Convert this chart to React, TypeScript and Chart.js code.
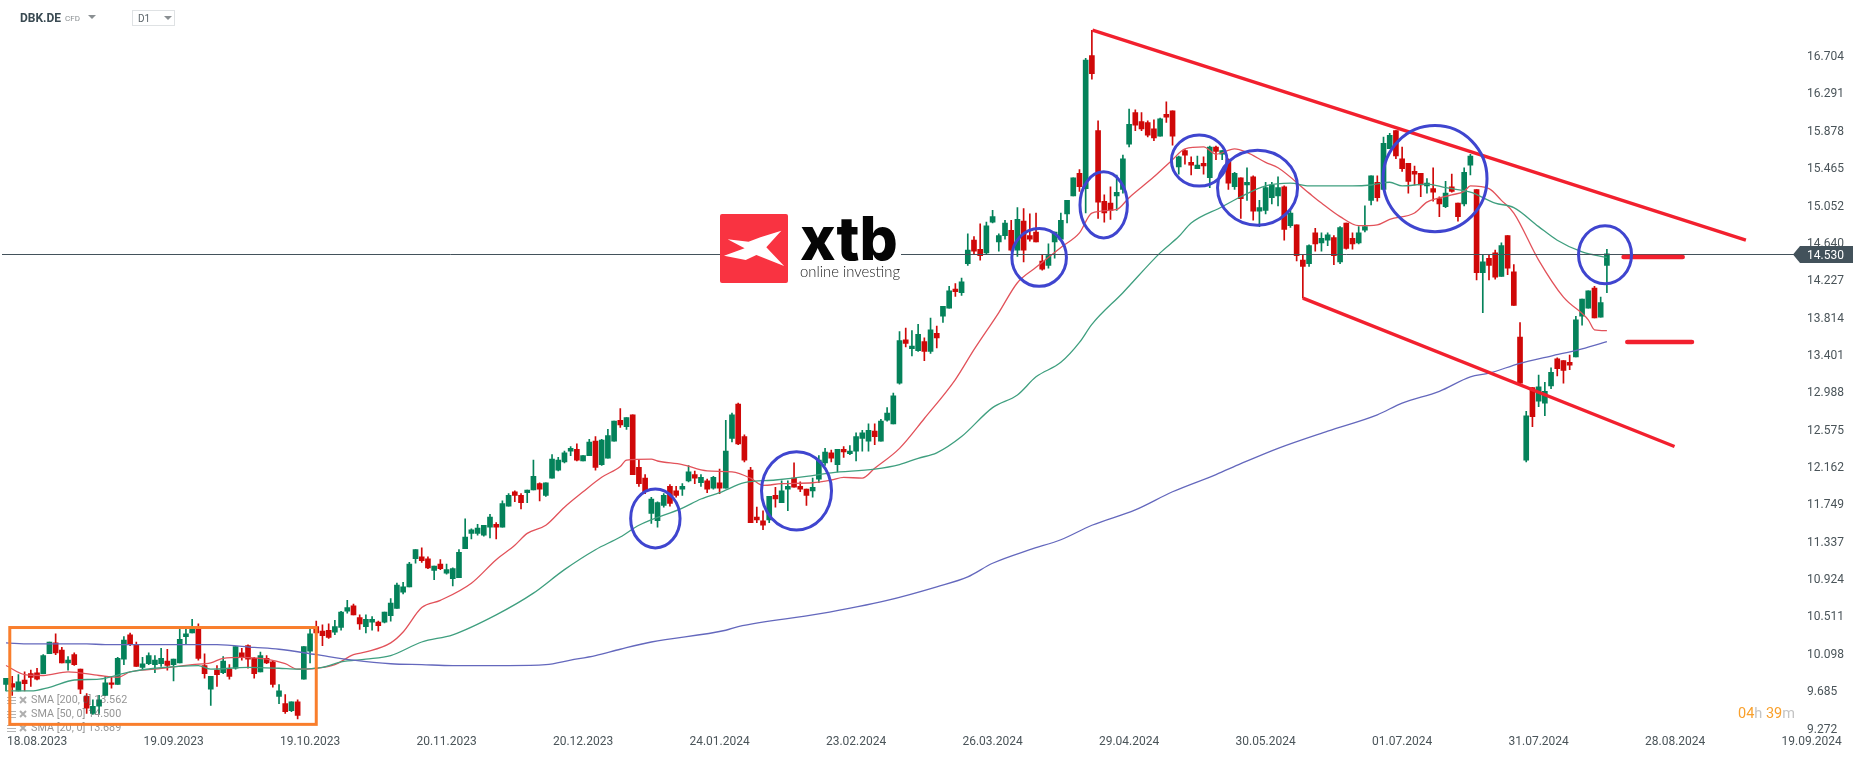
import { useEffect, useRef } from "react"
import { Chart, registerables } from "chart.js"

Chart.register(...registerables)

// daily candles
const opens = [
  9.77,9.78,9.70,9.82,9.89,9.90,9.89,10.11,10.23,10.15,
  10.01,10.10,9.94,9.64,9.45,9.53,9.65,9.79,9.77,10.05,
  10.32,10.21,9.96,10.00,9.99,10.00,10.03,9.99,10.01,10.30,
  10.34,10.39,9.98,9.72,9.93,9.90,9.94,9.95,10.12,10.20,
  10.06,9.91,10.06,10.02,9.64,9.56,9.48,9.58,9.83,10.14,
  10.41,10.36,10.37,10.35,10.40,10.58,10.64,10.51,10.41,10.46,
  10.46,10.46,10.53,10.61,10.79,10.85,11.16,11.18,11.16,11.03,
  11.10,11.00,10.94,10.95,11.27,11.44,11.44,11.42,11.51,11.54,
  11.51,11.74,11.90,11.86,11.89,11.92,11.99,11.86,12.05,12.14,
  12.23,12.35,12.37,12.24,12.30,12.46,12.20,12.27,12.46,12.69,
  12.62,12.75,12.17,12.05,11.66,11.58,11.75,11.96,11.91,11.93,
  12.02,12.09,12.00,12.02,11.94,12.00,11.94,12.49,12.87,12.51,
  12.14,11.62,11.58,11.59,11.86,11.78,11.93,12.05,11.96,11.93,
  11.91,12.04,12.22,12.33,12.20,12.37,12.32,12.35,12.49,12.46,
  12.57,12.46,12.69,12.65,13.10,13.58,13.48,13.46,13.56,13.45,
  13.65,13.84,13.93,14.14,14.10,14.42,14.68,14.58,14.54,14.88,
  14.66,14.73,14.79,14.57,14.89,14.73,14.77,14.45,14.40,14.66,
  14.69,14.97,15.17,15.42,15.25,16.72,15.89,15.11,15.09,15.17,
  15.24,15.74,16.09,15.99,15.98,15.91,15.83,16.07,16.11,15.49,
  15.67,15.54,15.47,15.53,15.37,15.71,15.63,15.57,15.27,15.37,
  15.29,15.38,15.00,15.01,15.15,15.17,15.27,14.84,14.85,14.46,
  14.42,14.76,14.65,14.68,14.71,14.44,14.87,14.70,14.65,14.79,
  15.12,15.32,15.24,15.69,15.89,15.58,15.53,15.44,15.42,15.28,
  15.25,15.14,15.05,15.27,15.09,15.08,15.51,15.24,14.32,14.48,
  14.54,14.28,14.73,14.33,13.61,12.25,13.05,12.90,12.88,13.07,
  13.37,13.35,13.33,13.39,13.84,13.93,14.15,13.83,14.40,
]
const highs = [
  9.84,9.86,9.88,9.91,9.93,9.95,10.10,10.24,10.33,10.18,
  10.08,10.12,9.94,9.67,9.60,9.65,9.86,9.86,10.07,10.30,
  10.34,10.24,10.07,10.12,10.09,10.17,10.16,10.05,10.39,10.39,
  10.49,10.44,10.11,9.86,9.98,10.08,9.99,10.19,10.17,10.21,
  10.07,10.13,10.09,10.03,9.77,9.66,9.58,9.60,10.19,10.38,
  10.47,10.43,10.44,10.48,10.58,10.70,10.66,10.54,10.54,10.52,
  10.47,10.57,10.72,10.89,10.90,11.12,11.26,11.28,11.18,11.08,
  11.15,11.10,11.06,11.26,11.60,11.49,11.54,11.53,11.65,11.56,
  11.80,11.88,11.91,11.88,11.92,12.25,12.00,12.00,12.31,12.28,
  12.35,12.40,12.43,12.30,12.48,12.51,12.48,12.59,12.68,12.82,
  12.72,12.75,12.25,12.09,11.84,11.79,11.88,11.98,11.96,11.99,
  12.19,12.13,12.09,12.04,12.07,12.15,12.69,12.77,12.88,12.53,
  12.17,11.73,11.69,11.85,11.95,12.02,12.02,12.22,12.01,11.93,
  12.05,12.30,12.38,12.36,12.37,12.40,12.41,12.55,12.58,12.65,
  12.65,12.70,12.83,12.99,13.67,13.71,13.68,13.75,13.60,13.82,
  13.73,13.95,14.17,14.20,14.26,14.75,14.72,14.86,14.88,15.01,
  14.75,14.90,14.90,15.04,15.03,14.97,14.98,14.52,14.64,14.77,
  14.98,15.12,15.37,15.46,16.69,17.00,16.00,15.18,15.27,15.40,
  15.62,16.13,16.12,16.09,16.00,16.01,16.03,16.21,16.11,15.61,
  15.68,15.60,15.61,15.60,15.72,15.72,15.67,15.58,15.43,15.37,
  15.48,15.39,15.12,15.32,15.32,15.38,15.28,15.01,14.85,14.52,
  14.63,14.81,14.76,14.76,14.73,14.83,14.87,14.76,14.83,15.06,
  15.39,15.39,15.82,15.86,15.89,15.71,15.53,15.50,15.42,15.36,
  15.48,15.16,15.33,15.41,15.09,15.48,15.63,15.24,14.52,14.52,
  14.57,14.65,14.73,14.41,13.77,12.79,13.05,13.19,13.11,13.27,
  13.38,13.35,13.41,13.84,14.03,14.12,14.17,14.05,14.58,
]
const lows = [
  9.70,9.65,9.70,9.70,9.75,9.82,9.89,10.11,10.10,10.01,
  9.93,9.98,9.67,9.45,9.44,9.45,9.65,9.73,9.77,9.99,
  10.20,9.97,9.94,9.99,9.90,9.97,9.93,9.81,10.01,10.21,
  10.34,10.04,9.84,9.54,9.75,9.89,9.83,9.94,10.04,9.95,
  9.84,9.91,10.00,9.74,9.56,9.45,9.47,9.39,9.83,10.01,
  10.28,10.20,10.28,10.32,10.37,10.56,10.54,10.38,10.34,10.37,
  10.36,10.45,10.47,10.61,10.77,10.85,11.11,11.12,11.05,10.93,
  11.04,10.99,10.86,10.95,11.27,11.38,11.42,11.41,11.39,11.38,
  11.51,11.74,11.79,11.71,11.78,11.92,11.80,11.85,12.05,12.13,
  12.22,12.30,12.24,12.24,12.30,12.14,12.19,12.27,12.46,12.61,
  12.59,12.09,11.96,11.88,11.55,11.51,11.73,11.74,11.84,11.86,
  12.01,11.99,11.96,11.89,11.93,11.88,11.94,12.45,12.42,12.23,
  11.56,11.56,11.48,11.56,11.73,11.78,11.69,11.95,11.90,11.75,
  11.84,12.00,12.19,12.23,12.12,12.28,12.31,12.24,12.35,12.35,
  12.42,12.46,12.68,12.65,13.09,13.50,13.40,13.45,13.35,13.43,
  13.49,13.77,13.93,14.06,14.07,14.40,14.53,14.46,14.53,14.87,
  14.56,14.69,14.56,14.50,14.44,14.67,14.66,14.35,14.37,14.48,
  14.68,14.87,15.17,15.22,14.98,16.46,14.92,14.88,14.91,15.01,
  15.20,15.71,15.89,15.89,15.82,15.78,15.83,15.98,15.73,15.41,
  15.52,15.40,15.47,15.41,15.26,15.57,15.57,15.24,15.24,14.92,
  15.12,14.90,14.83,14.97,15.08,15.06,14.68,14.82,14.45,14.04,
  14.39,14.56,14.56,14.62,14.41,14.42,14.58,14.58,14.64,14.77,
  15.07,15.11,15.24,15.69,15.58,15.44,15.20,15.29,15.16,15.20,
  15.11,14.94,15.04,15.21,14.89,15.06,15.40,14.24,13.88,14.24,
  14.25,14.28,14.30,13.96,13.08,12.23,12.62,12.84,12.74,13.04,
  13.18,13.10,13.25,13.39,13.74,13.93,13.82,13.83,14.10,
]
const closes = [
  9.84,9.74,9.80,9.78,9.85,9.83,10.09,10.24,10.12,10.01,
  10.04,9.99,9.72,9.51,9.53,9.60,9.79,9.77,10.06,10.26,
  10.21,9.97,10.00,10.09,10.04,10.06,9.98,10.05,10.27,10.33,
  10.39,10.06,9.89,9.86,9.88,10.03,9.86,10.19,10.07,10.05,
  9.89,10.09,10.01,9.77,9.70,9.47,9.58,9.43,10.19,10.33,
  10.34,10.31,10.29,10.41,10.57,10.62,10.54,10.44,10.49,10.49,
  10.42,10.57,10.67,10.87,10.85,11.10,11.26,11.14,11.06,11.08,
  11.05,11.04,11.05,11.23,11.40,11.48,11.50,11.53,11.62,11.51,
  11.77,11.86,11.86,11.78,11.92,12.07,11.93,12.00,12.26,12.25,
  12.33,12.38,12.25,12.30,12.45,12.17,12.47,12.52,12.68,12.64,
  12.72,12.09,11.99,11.90,11.82,11.78,11.86,11.77,11.86,11.96,
  12.12,12.05,12.06,11.93,12.06,11.94,12.35,12.75,12.43,12.25,
  11.56,11.59,11.53,11.85,11.82,11.91,11.96,11.95,11.93,11.86,
  11.95,12.25,12.34,12.27,12.37,12.34,12.35,12.51,12.55,12.58,
  12.51,12.68,12.77,12.96,13.57,13.54,13.51,13.64,13.45,13.69,
  13.60,13.95,14.12,14.11,14.22,14.57,14.56,14.51,14.84,14.94,
  14.73,14.87,14.57,14.91,14.57,14.69,14.66,14.36,14.51,14.77,
  14.90,15.12,15.37,15.27,16.67,16.52,15.10,14.98,15.01,15.21,
  15.58,15.96,15.95,15.91,15.84,15.81,16.02,16.04,15.83,15.60,
  15.62,15.51,15.51,15.50,15.71,15.66,15.67,15.31,15.42,15.14,
  15.32,15.00,15.04,15.26,15.29,15.26,14.80,14.98,14.51,14.39,
  14.62,14.64,14.70,14.74,14.51,14.82,14.59,14.64,14.76,14.83,
  15.39,15.15,15.75,15.84,15.61,15.47,15.33,15.41,15.29,15.31,
  15.21,15.08,15.20,15.22,14.94,15.43,15.61,14.32,14.44,14.40,
  14.27,14.62,14.37,13.96,13.10,12.74,12.73,13.06,13.01,13.22,
  13.26,13.24,13.30,13.80,14.03,14.12,13.82,13.99,14.53,
]

// moving averages: [bar index, price] read at the visible bends
const sma20: [number, number][] = [
  [0,9.98],[3,9.88],[6,9.87],[10,9.91],[15,9.87],[18,9.85],[20,9.91],[24,9.94],[30,9.99],[33,10.01],
  [35,10.06],[38,10.07],[42,10.05],[45,10.00],[47,9.94],[50,9.95],[53,9.99],[56,10.10],[58,10.13],[62,10.23],
  [64,10.35],[67,10.62],[70,10.70],[75,10.89],[79,11.15],[82,11.31],[84,11.44],[87,11.53],[90,11.73],[93,11.90],
  [96,12.06],[99,12.18],[100,12.25],[104,12.26],[105,12.24],[109,12.20],[113,12.13],[117,12.12],[120,12.05],[122,11.97],
  [125,11.99],[130,12.00],[133,12.03],[135,12.06],[138,12.05],[140,12.16],[144,12.38],[148,12.71],[153,13.14],[156,13.47],
  [160,13.88],[163,14.21],[166,14.38],[170,14.60],[173,14.76],[175,14.98],[179,15.02],[181,15.15],[185,15.38],[188,15.57],
  [190,15.69],[193,15.71],[195,15.63],[198,15.69],[200,15.65],[203,15.54],[205,15.48],[210,15.20],[212,15.09],[215,14.94],
  [218,14.84],[221,14.85],[223,14.91],[227,14.98],[229,15.10],[233,15.18],[235,15.22],[236,15.28],[239,15.25],[241,15.12],
  [243,14.98],[247,14.46],[251,14.05],[255,13.80],[256,13.69],[258,13.68],
]
const sma50: [number, number][] = [
  [0,9.70],[4,9.70],[7,9.74],[11,9.82],[15,9.83],[20,9.91],[24,9.95],[31,9.98],[33,9.94],[39,9.96],
  [44,9.95],[47,9.94],[51,9.96],[54,10.02],[58,10.05],[62,10.09],[67,10.24],[72,10.32],[79,10.54],[85,10.78],
  [90,11.04],[95,11.26],[99,11.40],[102,11.53],[109,11.72],[112,11.82],[115,11.89],[119,12.00],[124,12.03],[129,12.07],
  [133,12.11],[140,12.15],[144,12.20],[147,12.27],[150,12.33],[154,12.51],[159,12.83],[163,12.97],[166,13.17],[170,13.33],
  [173,13.55],[175,13.75],[180,14.10],[186,14.54],[189,14.72],[191,14.87],[196,15.05],[199,15.16],[203,15.28],[207,15.31],
  [210,15.28],[217,15.28],[220,15.29],[223,15.32],[225,15.28],[229,15.30],[232,15.26],[236,15.21],[240,15.09],[243,15.04],
  [247,14.83],[250,14.68],[254,14.55],[258,14.49],
]
const sma200: [number, number][] = [
  [0,10.23],[4,10.22],[13,10.22],[16,10.21],[28,10.21],[34,10.21],[40,10.18],[44,10.16],[50,10.10],[56,10.04],
  [62,10.00],[67,9.99],[72,9.98],[81,9.98],[87,9.99],[91,10.04],[95,10.09],[99,10.16],[104,10.24],[116,10.37],
  [118,10.41],[131,10.55],[142,10.70],[150,10.85],[155,10.96],[159,11.11],[165,11.26],[170,11.37],[175,11.53],[182,11.70],
  [188,11.90],[195,12.09],[199,12.21],[205,12.38],[213,12.57],[221,12.75],[225,12.88],[231,13.01],[236,13.17],[239,13.21],
  [244,13.32],[249,13.40],[254,13.48],[258,13.56],
]

const dateLabels = [
  "18.08.2023","19.09.2023","19.10.2023","20.11.2023","20.12.2023","24.01.2024","23.02.2024",
  "26.03.2024","29.04.2024","30.05.2024","01.07.2024","31.07.2024","28.08.2024","19.09.2024",
]
const dateIndexes = [5, 27, 49, 71, 93, 115, 137, 159, 181, 203, 225, 247, 269, 291]
const priceTicks = [
  16.704,16.291,15.878,15.465,15.052,14.64,14.227,13.814,13.401,12.988,12.575,12.162,11.749,11.337,10.924,10.511,10.098,9.685,9.272,
]
const lastPrice = 14.53
const legendRows = ["SMA [200, 0] 13.562", "SMA [50, 0] 14.500", "SMA [20, 0] 13.689"]

// hand drawn analysis marks, in [bar index, price]
const trendLines: [number, number, number, number][] = [
  [175.1, 17.0, 280.4, 14.68],
  [209, 14.04, 268.9, 12.4],
]
const levelMarks: [number, number, number][] = [
  [260.7, 270.2, 14.494],
  [261.3, 271.7, 13.555],
]
// centre bar, centre price, radius in bars, radius in price
const circles: [number, number, number, number][] = [
  [104.65, 11.605, 3.98, 0.326],
  [127.4, 11.91, 5.64, 0.431],
  [166.5, 14.49, 4.4, 0.32],
  [176.9, 15.07, 3.82, 0.365],
  [192.3, 15.56, 4.48, 0.282],
  [201.7, 15.26, 6.45, 0.414],
  [230.3, 15.36, 8.38, 0.586],
  [257.7, 14.52, 4.27, 0.32],
]
const rangeBox = { fromBar: 0.61, toBar: 50, top: 10.4, bottom: 9.33 }

const BAR_SLOTS = 300
const GREEN = "#04825a"
const RED = "#cf0808"

const categories = Array.from({ length: BAR_SLOTS }, (_, i) => {
  const at = dateIndexes.indexOf(i)
  return at >= 0 ? dateLabels[at] : ""
})

const sparse = (points: [number, number][]) => {
  const out: (number | null)[] = Array(opens.length).fill(null)
  points.forEach(([i, v]) => {
    out[i] = v
  })
  return out
}

const candleColors = opens.map((o, i) => (closes[i] >= o ? GREEN : RED))

const lineStyle = {
  type: "line",
  borderWidth: 1.3,
  pointRadius: 0,
  spanGaps: true,
  cubicInterpolationMode: "monotone",
  order: 1,
}

const overlayPlugin = {
  id: "overlay",
  afterDatasetsDraw(chart: any) {
    const { ctx } = chart
    const xs = chart.scales.x
    const ys = chart.scales.y
    ctx.save()

    // price axis labels
    ctx.fillStyle = "#4a5459"
    ctx.font = "12px Roboto"
    ctx.textAlign = "left"
    ctx.textBaseline = "middle"
    priceTicks.forEach((tick) => {
      ctx.fillText(tick.toFixed(3), 1807, ys.getPixelForValue(tick))
    })

    // last price line
    const priceY = Math.round(ys.getPixelForValue(lastPrice)) + 0.5
    ctx.strokeStyle = "#43525b"
    ctx.lineWidth = 1
    ctx.beginPath()
    ctx.moveTo(2, priceY)
    ctx.lineTo(1795, priceY)
    ctx.stroke()

    // indicator legend
    legendRows.forEach((row, i) => {
      const y = 700 + i * 14
      ctx.strokeStyle = "rgba(120,120,120,0.55)"
      ctx.lineWidth = 1
      for (let k = -3; k <= 3; k += 3) {
        ctx.beginPath()
        ctx.moveTo(7, y + k + 0.5)
        ctx.lineTo(16, y + k + 0.5)
        ctx.stroke()
      }
      ctx.strokeStyle = "rgba(120,120,120,0.6)"
      ctx.lineWidth = 2
      ctx.beginPath()
      ctx.moveTo(20, y - 3)
      ctx.lineTo(26, y + 3)
      ctx.moveTo(26, y - 3)
      ctx.lineTo(20, y + 3)
      ctx.stroke()
      ctx.fillStyle = "rgba(90,90,90,0.65)"
      ctx.font = "10.8px Roboto"
      ctx.textAlign = "left"
      ctx.textBaseline = "middle"
      ctx.fillText(row, 31, y)
    })

    // orange range box
    const bx1 = xs.getPixelForValue(rangeBox.fromBar)
    const bx2 = xs.getPixelForValue(rangeBox.toBar)
    const by1 = ys.getPixelForValue(rangeBox.top)
    const by2 = ys.getPixelForValue(rangeBox.bottom)
    ctx.strokeStyle = "#f97e2c"
    ctx.lineWidth = 3
    ctx.strokeRect(bx1, by1, bx2 - bx1, by2 - by1)

    // channel lines
    ctx.strokeStyle = "#f2202e"
    ctx.lineWidth = 3.4
    trendLines.forEach(([a, pa, b, pb]) => {
      ctx.beginPath()
      ctx.moveTo(xs.getPixelForValue(a), ys.getPixelForValue(pa))
      ctx.lineTo(xs.getPixelForValue(b), ys.getPixelForValue(pb))
      ctx.stroke()
    })
    ctx.lineWidth = 4.7
    ctx.lineCap = "round"
    levelMarks.forEach(([a, b, p]) => {
      ctx.beginPath()
      ctx.moveTo(xs.getPixelForValue(a), ys.getPixelForValue(p))
      ctx.lineTo(xs.getPixelForValue(b), ys.getPixelForValue(p))
      ctx.stroke()
    })
    ctx.lineCap = "butt"

    // circles
    ctx.strokeStyle = "#3f45cf"
    ctx.lineWidth = 3
    circles.forEach(([bar, price, rBar, rPrice]) => {
      const cx = xs.getPixelForValue(bar)
      const cy = ys.getPixelForValue(price)
      const rx = Math.abs(xs.getPixelForValue(bar + rBar) - cx)
      const ry = Math.abs(ys.getPixelForValue(price + rPrice) - cy)
      ctx.beginPath()
      ctx.ellipse(cx, cy, rx, ry, 0, 0, Math.PI * 2)
      ctx.stroke()
    })

    // price tag
    ctx.fillStyle = "#43525b"
    ctx.beginPath()
    ctx.moveTo(1793, priceY)
    ctx.lineTo(1800, 246)
    ctx.lineTo(1853, 246)
    ctx.lineTo(1853, 263)
    ctx.lineTo(1800, 263)
    ctx.closePath()
    ctx.fill()
    ctx.fillStyle = "#ffffff"
    ctx.font = "12px Roboto"
    ctx.textAlign = "left"
    ctx.textBaseline = "middle"
    ctx.fillText(lastPrice.toFixed(3), 1807, 255.5)

    // logo
    ctx.fillStyle = "#ffffff"
    ctx.fillRect(720, 212, 181, 72)
    ctx.fillStyle = "#f93341"
    ctx.beginPath()
    ctx.roundRect(720, 214, 68, 69, 2)
    ctx.fill()
    ctx.fillStyle = "#ffffff"
    ctx.beginPath()
    ctx.moveTo(727.6, 239.3)
    ctx.lineTo(748.5, 241.7)
    ctx.lineTo(760.4, 237.3)
    ctx.lineTo(781.3, 230.7)
    ctx.lineTo(766.3, 247.3)
    ctx.lineTo(784.1, 266)
    ctx.lineTo(756.4, 255)
    ctx.lineTo(745.7, 260)
    ctx.lineTo(724, 255.7)
    ctx.lineTo(744.6, 248.3)
    ctx.closePath()
    ctx.fill()
    ctx.fillStyle = "#050505"
    ctx.textBaseline = "alphabetic"
    ctx.font = "800 60px Inter"
    ctx.fillText("xtb", 800, 260, 100)
    ctx.fillStyle = "#222222"
    ctx.font = "300 15px Lato"
    ctx.fillText("online investing", 800, 277, 100)

    // header
    ctx.textBaseline = "middle"
    ctx.fillStyle = "#3a4a52"
    ctx.font = "bold 12px Roboto"
    ctx.fillText("DBK.DE", 20, 19)
    ctx.fillStyle = "#8a8f92"
    ctx.font = "8px Roboto"
    ctx.fillText("CFD", 65, 19)
    const triangle = (x: number, y: number) => {
      ctx.fillStyle = "#8a8f92"
      ctx.beginPath()
      ctx.moveTo(x - 4, y - 2)
      ctx.lineTo(x + 4, y - 2)
      ctx.lineTo(x, y + 2)
      ctx.closePath()
      ctx.fill()
    }
    triangle(92, 17)
    ctx.strokeStyle = "#dfe2e4"
    ctx.lineWidth = 1
    ctx.strokeRect(132.5, 10.5, 42, 15)
    ctx.fillStyle = "#5a6368"
    ctx.font = "10px Roboto"
    ctx.fillText("D1", 138, 19.5)
    triangle(168, 18)

    // session countdown
    ctx.font = "14.5px Roboto"
    let cx = 1738
    const parts: [string, string][] = [["04", "#f9a02c"], ["h ", "#c4c4c4"], ["39", "#f9a02c"], ["m", "#c4c4c4"]]
    parts.forEach(([text, color]) => {
      ctx.fillStyle = color
      ctx.fillText(text, cx, 714)
      cx += ctx.measureText(text).width
    })

    ctx.restore()
  },
}

export default function App() {
  const chartRef = useRef<HTMLCanvasElement>(null)

  useEffect(() => {
    if (!chartRef.current) return
    document.body.style.margin = "0"

    const chart = new Chart(chartRef.current, {
      type: "bar",
      data: {
        labels: categories,
        datasets: [
          { ...lineStyle, label: "SMA 200", data: sparse(sma200), borderColor: "#6468bd" },
          { ...lineStyle, label: "SMA 50", data: sparse(sma50), borderColor: "#3f9f7f" },
          { ...lineStyle, label: "SMA 20", data: sparse(sma20), borderColor: "#e2525a" },
          {
            label: "Body",
            data: opens.map((o, i) => [o, closes[i]]),
            backgroundColor: candleColors,
            barThickness: 5,
            grouped: false,
            order: 2,
          },
          {
            label: "Wick",
            data: lows.map((l, i) => [l, highs[i]]),
            backgroundColor: candleColors,
            barThickness: 1,
            grouped: false,
            order: 3,
          },
        ],
      } as any,
      options: {
        responsive: false,
        animation: false,
        events: [],
        layout: { padding: { left: 2.9, right: 1.6, top: 0, bottom: 0 } },
        plugins: { legend: { display: false }, tooltip: { enabled: false } },
        scales: {
          x: {
            grid: { display: false, drawTicks: false },
            border: { display: false },
            afterBuildTicks: (scale: any) => {
              scale.ticks = dateIndexes.map((value) => ({ value }))
            },
            ticks: {
              autoSkip: false,
              maxRotation: 0,
              padding: 5,
              color: "#4a5459",
              font: { family: "Roboto", size: 12 },
            },
            afterFit: (scale: any) => {
              scale.height = 29
            },
          },
          y: {
            display: false,
            min: 9.2677,
            max: 17.334,
          },
        },
      } as any,
      plugins: [overlayPlugin],
    })

    return () => {
      chart.destroy()
    }
  }, [])

  return <canvas ref={chartRef} width={1866} height={759} style={{ display: "block" }}></canvas>
}
